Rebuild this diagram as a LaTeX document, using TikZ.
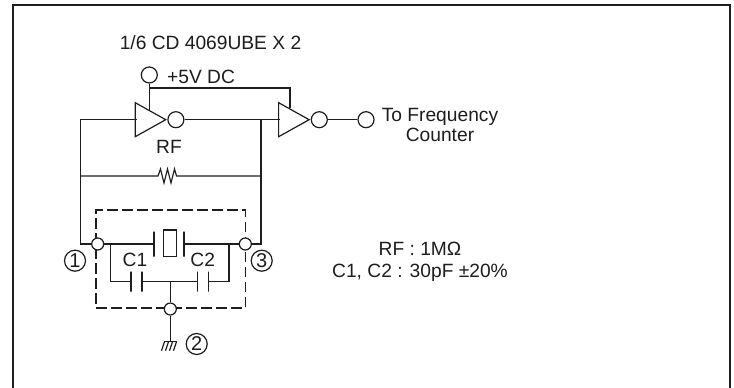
\documentclass[tikz,border=0pt]{standalone}
\usepackage{fontspec}
\setmainfont{Liberation Sans}
\usetikzlibrary{positioning, shapes.geometric}
\definecolor{inkblack}{rgb}{0.12, 0.11, 0.11}
\tikzset{
	wire/.style={draw=inkblack, line width=1.2pt},
	lbl/.style={text=inkblack, inner sep=0pt, font=\fontsize{19.2}{22.5}\selectfont},
	term/.style={circle, draw=inkblack, fill=white, line width=1.2pt, inner sep=0pt, minimum size=#1},
	inv/.style={isosceles triangle, isosceles triangle stretches, draw=inkblack, line width=1.2pt, inner sep=0pt, minimum height=30.5pt, minimum width=34pt, anchor=apex},
	plate/.style={rectangle, draw=inkblack, line width=1.2pt, inner sep=0pt, minimum width=0pt, minimum height=#1},
	pinmark/.style={circle, draw=inkblack, line width=1.2pt, text=inkblack, inner sep=0pt, minimum size=21pt, font=\fontsize{20}{22.5}\selectfont}
}
\begin{document}
\begin{tikzpicture}[x=1pt, y=-1pt]
				\useasboundingbox (0,0) rectangle (734,388);
				\coordinate (frameA) at (13,388);
				\coordinate (frameB) at (13,5.3);
				\coordinate (frameC) at (729.7,5.3);
				\coordinate (frameD) at (729.7,388);
				\draw [inkblack, line width=2.3pt] (frameA) -- (frameB) -- (frameC) -- (frameD);

				\node[rectangle, draw=inkblack, line width=1.2pt, dash pattern=on 10.5pt off 4.5pt, inner sep=0pt, minimum width=149.3pt, minimum height=98pt] (pack) at (170.65,259) {};

				\node[inv] (invA) at (167.3,119.7) {};
				\node[inv] (invB) at (310.7,119.7) {};
				\node[term=16pt, right=0pt of invA.apex] (bubA) {};
				\node[term=16pt, right=0pt of invB.apex] (bubB) {};
				\node[term=16pt] (vdd) at (149.3,75) {};
				\node[term=16pt] (out) at (366,119.7) {};
				\node[term=12pt] (pinA) at (97.7,244) {};
				\node[term=12pt] (pinC) at (245.3,244) {};
				\node[term=12pt] (pinB) at (170.3,309) {};

				\coordinate (tapA) at (149.3,109.5);
				\coordinate (tapB) at (290,108.3);
				\coordinate (railA) at (149.3,88);
				\coordinate (railB) at (290,88);
				\coordinate (inA) at (136.7,119.7);
				\coordinate (inB) at (280,119.7);
				\coordinate (fbTL) at (80.7,119.7);
				\coordinate (fbTR) at (261,119.7);
				\coordinate (fbBL) at (80.7,244);
				\coordinate (fbBR) at (261,244);
				\coordinate (rfL) at (80.7,176);
				\coordinate (rfR) at (261,176);
				\coordinate (rfA) at (158,176);
				\coordinate (rfB) at (178.5,176);

				\draw [wire] (vdd) -- (tapA);
				\draw [wire] (railA) -- (railB) -- (tapB);
				\draw [wire] (bubA) -- (inB);
				\draw [wire] (bubB) -- (out);
				\draw [wire] (inA) -- (fbTL) -- (fbBL) -- (pinA);
				\draw [wire] (fbTR) -- (fbBR) -- (pinC);
				\draw [wire] (rfL) -- (rfA) -- ++(2.5,-7) -- ++(3.5,14) -- ++(3.5,-14) -- ++(3.5,14) -- ++(3.5,-14) -- ++(2,7) -- (rfB) -- (rfR);

				\node[plate=25pt] (xtalL) at (154,244) {};
				\node[plate=25pt] (xtalR) at (184,244) {};
				\node[rectangle, draw=inkblack, line width=1.2pt, inner sep=0pt, minimum width=13.4pt, minimum height=26.7pt] (xtal) at (170,243.3) {};
				\node[plate=20pt] (capAL) at (131,281.7) {};
				\node[plate=20pt] (capAR) at (142,281.7) {};
				\node[plate=20pt] (capBL) at (197.3,281.7) {};
				\node[plate=20pt] (capBR) at (208.3,281.7) {};

				\coordinate (busL) at (110.7,244);
				\coordinate (busR) at (229,244);
				\coordinate (busLB) at (110.7,281.7);
				\coordinate (busRB) at (229,281.7);
				\coordinate (busM) at (170.3,281.7);
				\coordinate (gnd) at (170.3,341.7);

				\draw [wire] (pinA) -- (xtalL);
				\draw [wire] (xtalR) -- (pinC);
				\draw [wire] (busL) -- (busLB) -- (capAL);
				\draw [wire] (busR) -- (busRB) -- (capBR);
				\draw [wire] (capAR) -- (capBL);
				\draw [wire] (busM) -- (pinB);
				\draw [wire] (pinB) -- (gnd);
				\draw [wire] (164,341.7) -- (176.5,341.7);
				\draw [wire] (164.5,341.7) -- ++(-3,9);
				\draw [wire] (168.5,341.7) -- ++(-3,9);
				\draw [wire] (172.5,341.7) -- ++(-3,9);
				\draw [wire] (176.5,341.7) -- ++(-3,9);

				\node[lbl] (partlbl) at (210.5,42.7) {1/6 CD 4069UBE X 2};
				\node[lbl, anchor=west] (vddlbl) at (167,76.7) {+5V DC};
				\node[lbl] (rflbl) at (169,147) {RF};
				\node[lbl, font=\fontsize{19.2}{19.3}\selectfont, align=center] (outlbl) at (440,125) {To Frequency\\Counter};
				\node[lbl] (clbl) at (135,260) {C1};
				\node[lbl] (cblbl) at (202.7,260) {C2};
				\node[lbl, align=center] (speclbl) at (420,262) {RF : 1MΩ\\C1, C2 : 30pF ±20\%};
				\node[pinmark] (markA) at (75,260.7) {1};
				\node[pinmark] (markC) at (261.7,260.7) {3};
				\node[pinmark] (markB) at (196.7,344) {2};
\end{tikzpicture}
\end{document}
